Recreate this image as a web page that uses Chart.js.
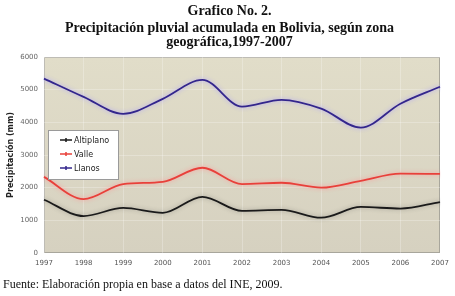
<!DOCTYPE html>
<html><head><meta charset="utf-8">
<script src="https://cdn.jsdelivr.net/npm/chart.js@4.4.1/dist/chart.umd.min.js"></script>
<style>
html,body{margin:0;padding:0;background:#fff;width:455px;height:296px;overflow:hidden;}
#wrap{position:relative;width:455px;height:296px;}
canvas{position:absolute;left:0;top:0;}
.t{position:absolute;left:0;width:455px;text-align:center;font-family:"Liberation Serif","Times New Roman",serif;font-weight:bold;color:#111;font-size:14px;line-height:14px;white-space:nowrap;}
#foot{position:absolute;left:3px;top:277px;font-family:"Liberation Serif",serif;font-size:12px;color:#111;white-space:nowrap;}
</style></head>
<body><div id="wrap">
<canvas id="c" width="455" height="296"></canvas>
<div class="t" style="top:4px;left:2px">Grafico No. 2.</div>
<div class="t" style="top:21px;left:2px">Precipitación pluvial acumulada en Bolivia, según zona</div>
<div class="t" style="top:35px;left:2px">geográfica,1997-2007</div>
<div id="foot">Fuente: Elaboración propia en base a datos del INE, 2009.</div>
</div>
<script>
const years = ["1997","1998","1999","2000","2001","2002","2003","2004","2005","2006","2007"];
const altiplano = [1630,1130,1380,1230,1720,1290,1320,1080,1410,1360,1560];
const valle = [2330,1650,2110,2180,2610,2110,2150,2000,2210,2430,2420];
const llanos = [5340,4780,4260,4720,5300,4480,4690,4420,3840,4570,5090];
const seriesNames = ["Altiplano","Valle","Llanos"];
const yTicks = [0,1000,2000,3000,4000,5000,6000];

const halo = {
  id:'halo',
  beforeDatasetDraw(chart,args){
    const ctx=chart.ctx; ctx.save();
    const c=['rgba(60,60,60,0.35)','rgba(255,150,150,0.9)','rgba(170,160,255,0.9)'][args.index];
    ctx.shadowColor=c; ctx.shadowBlur=4;
  },
  afterDatasetDraw(chart){chart.ctx.restore();}
};
const bg = {
  id:'bg',
  beforeDraw(chart){
    const a=chart.chartArea, ctx=chart.ctx;
    ctx.save();
    const g=ctx.createLinearGradient(0,a.top,0,a.bottom);
    g.addColorStop(0,'#e1ddc9'); g.addColorStop(1,'#d6d1c0');
    ctx.fillStyle=g; ctx.fillRect(a.left,a.top,a.right-a.left,a.bottom-a.top);
    ctx.strokeStyle='#a8a69c'; ctx.lineWidth=1;
    ctx.strokeRect(a.left+0.5,a.top+0.5,a.right-a.left-1,a.bottom-a.top-1);
    ctx.restore();
  }
};
const legendBox = {
  id:'legendBox',
  afterDraw(chart){
    const ctx=chart.ctx; ctx.save();
    const x=48,y=130,w=70,h=49;
    ctx.fillStyle='#ffffff'; ctx.fillRect(x,y,w,h);
    ctx.strokeStyle='#9a9a9a'; ctx.lineWidth=1; ctx.strokeRect(x+0.5,y+0.5,w,h);
    ctx.font='8px "DejaVu Sans", sans-serif'; ctx.textBaseline='middle';
    chart.data.datasets.forEach((ds,i)=>{
      const yy=y+10+i*14;
      ctx.strokeStyle=ds.borderColor; ctx.lineWidth=1.5;
      ctx.beginPath(); ctx.moveTo(x+12,yy); ctx.lineTo(x+24,yy); ctx.stroke();
      ctx.beginPath(); ctx.moveTo(x+18,yy-2); ctx.lineTo(x+18,yy+2); ctx.stroke();
      ctx.fillStyle='#222'; ctx.fillText(ds.label,x+26,yy+0.5);
    });
    ctx.restore();
  }
};

new Chart(document.getElementById('c'),{
  type:'line',
  data:{labels:years,datasets:[
    {label:seriesNames[0],data:altiplano,borderColor:'#1a1a1a',borderWidth:1.8},
    {label:seriesNames[1],data:valle,borderColor:'#e8403a',borderWidth:1.8},
    {label:seriesNames[2],data:llanos,borderColor:'#33268c',borderWidth:1.8}
  ]},
  options:{
    responsive:false,animation:false,
    layout:{padding:{top:57,right:15,bottom:0,left:0}},
    elements:{line:{tension:0.4,cubicInterpolationMode:'monotone'},point:{radius:0}},
    plugins:{legend:{display:false},title:{display:false},tooltip:{enabled:false}},
    scales:{
      x:{offset:false,
        grid:{color:'rgba(255,255,255,0.25)',drawTicks:false},
        border:{display:false},
        ticks:{color:'#555',font:{size:7,family:'"DejaVu Sans", sans-serif'},padding:6,maxRotation:0,autoSkip:false},
        afterFit(s){s.height=43;}
      },
      y:{min:0,max:6000,
        afterBuildTicks(s){s.ticks=yTicks.map(v=>({value:v}));},
        grid:{color:'rgba(255,255,255,0.25)',drawTicks:false},
        border:{display:false},
        ticks:{color:'#666',font:{size:7,family:'"DejaVu Sans", sans-serif'},padding:6,callback:v=>String(v)},
        title:{display:true,text:'Precipitación (mm)',color:'#222',font:{size:8,weight:'bold',family:'"DejaVu Sans", sans-serif'},padding:{top:6,bottom:2}},
        afterFit(s){s.width=44;}
      }
    }
  },
  plugins:[bg,halo,legendBox]
});
</script>
</body></html>
